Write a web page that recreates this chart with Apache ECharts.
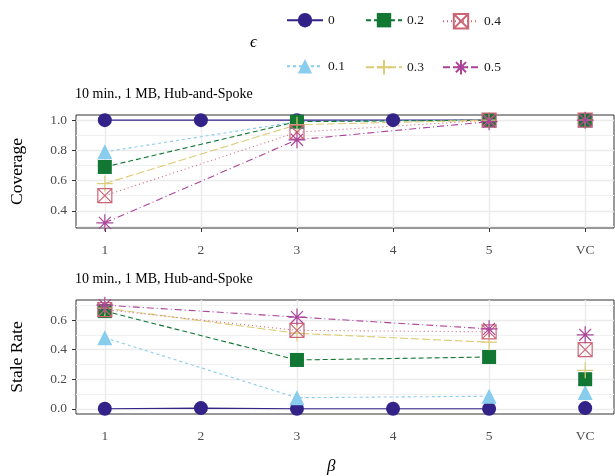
<!DOCTYPE html>
<html>
<head>
<meta charset="utf-8">
<script src="https://cdn.jsdelivr.net/npm/echarts@6/dist/echarts.min.js"></script>
<style>
html, body { margin: 0; padding: 0; background: #fff; }
#chart { width: 615px; height: 476px; }
</style>
</head>
<body>
<div id="chart"></div>
<script>
var categories = ['1', '2', '3', '4', '5', 'VC'];
var epsNames = ['0', '0.1', '0.2', '0.3', '0.4', '0.5'];

// coverage per beta (null = not run)
var cov0  = [1.0, 1.0, 1.0, 1.0, 1.0, 1.0];
var cov01 = [0.79, null, 0.99, null, 1.0, 1.0];
var cov02 = [0.69, null, 0.99, null, 1.0, 1.0];
var cov03 = [0.58, null, 0.97, null, 1.0, 1.0];
var cov04 = [0.50, null, 0.92, null, 1.0, 1.0];
var cov05 = [0.32, null, 0.87, null, 0.99, 1.0];

// stale rate per beta
var stale0  = [0.0, 0.005, 0.0, 0.0, 0.0, 0.005];
var stale01 = [0.48, null, 0.075, null, 0.085, 0.11];
var stale02 = [0.66, null, 0.33, null, 0.35, 0.20];
var stale03 = [0.68, null, 0.51, null, 0.45, 0.26];
var stale04 = [0.67, null, 0.53, null, 0.52, 0.40];
var stale05 = [0.70, null, 0.62, null, 0.54, 0.50];

var covTicks = [0.4, 0.6, 0.8, 1.0];
var covMinor = [0.3, 0.5, 0.7, 0.9];
var staleTicks = [0.0, 0.2, 0.4, 0.6];
var staleMinor = [0.1, 0.3, 0.5, 0.7];

var FONT = 'Liberation Serif';
var colors = ['#332288', '#88CCEE', '#117733', '#DDCC77', '#CC6677', '#AA4499'];
var symbols = [
    'circle',
    'triangle',
    'rect',
    'path://M5,0L5,10M0,5L10,5',
    'path://M0,0L10,0L10,10L0,10Z M0,0L10,10 M10,0L0,10',
    'path://M5,0L5,10M0,5L10,5M1.5,1.5L8.5,8.5M8.5,1.5L1.5,8.5'
];
var sizes = [14, 15, 14, 16, 14, 17];
var dashes = ['solid', [3, 3], [5, 3], [8, 3], [1, 3], [7, 3, 1, 3]];
var filled = [true, true, true, false, false, false];

var covData = [cov0, cov01, cov02, cov03, cov04, cov05];
var staleData = [stale0, stale01, stale02, stale03, stale04, stale05];

function makeSeries(k, vals, gi) {
    var pts = [];
    for (var i = 0; i < 5; i++) {
        if (vals[i] != null) pts.push([i + 1, vals[i]]);
    }
    // VC is not joined to the rest
    pts.push([5.5, '-']);
    pts.push([6, vals[5]]);
    var item = filled[k]
        ? { color: colors[k] }
        : { color: 'rgba(0,0,0,0)', borderColor: colors[k], borderWidth: 1.2 };
    return {
        name: epsNames[k],
        type: 'line',
        xAxisIndex: gi,
        yAxisIndex: gi * 2,
        data: pts,
        symbol: symbols[k],
        symbolSize: sizes[k],
        showAllSymbol: true,
        connectNulls: false,
        lineStyle: { color: colors[k], width: 1.1, type: dashes[k] },
        itemStyle: item,
        emphasis: { disabled: true },
        animation: false
    };
}

var series = [];
for (var k = 0; k < 6; k++) series.push(makeSeries(k, covData[k], 0));
for (var k = 0; k < 6; k++) series.push(makeSeries(k, staleData[k], 1));

var tickLabel = { fontFamily: FONT, fontSize: 13.5, color: '#4D4D4D' };

function xAxisFor(gi) {
    return {
        type: 'value', gridIndex: gi, min: 0.7, max: 6.3,
        axisLine: { show: false },
        axisTick: { show: true, length: 4, customValues: [1, 2, 3, 4, 5, 6], lineStyle: { color: '#333' } },
        axisLabel: Object.assign({ margin: 15, customValues: [1, 2, 3, 4, 5, 6],
            formatter: function (v) { return categories[Math.round(v) - 1]; } }, tickLabel),
        splitLine: { show: true, lineStyle: { color: '#EBEBEB', width: 1.4 } }
    };
}

function yAxesFor(gi, min, max, ticks, minor, name) {
    return [{
        type: 'value', gridIndex: gi, min: min, max: max,
        name: name, nameLocation: 'middle', nameGap: 50,
        nameTextStyle: { fontFamily: FONT, fontSize: 17.5, color: '#000' },
        axisLine: { show: false },
        axisTick: { show: true, length: 4, customValues: ticks, lineStyle: { color: '#333' } },
        axisLabel: Object.assign({ margin: 9, customValues: ticks,
            formatter: function (v) { return v.toFixed(1); } }, tickLabel),
        splitLine: { show: true, lineStyle: { color: '#EBEBEB', width: 1.4 } }
    }, {
        type: 'value', gridIndex: gi, min: min, max: max, position: 'left',
        axisLine: { show: false },
        axisTick: { show: false, customValues: minor },
        axisLabel: { show: false, customValues: minor },
        splitLine: { show: true, lineStyle: { color: '#F0F0F0', width: 1 } }
    }];
}

var legends = [];
var legX = [281, 360, 437];
for (var k = 0; k < 6; k++) {
    var col = Math.floor(k / 2), row = k % 2;
    legends.push({
        data: [epsNames[k]],
        left: legX[col], top: row == 0 ? 8 : 54,
        itemWidth: 36, itemHeight: 18,
        selectedMode: false,
        textStyle: { fontFamily: FONT, fontSize: 13.5, color: '#1a1a1a' }
    });
}

var panelTitle = { fontFamily: FONT, fontSize: 14, fontWeight: 'normal', color: '#000' };

var option = {
    backgroundColor: '#fff',
    animation: false,
    title: [
        { text: '10 min., 1 MB, Hub-and-Spoke', left: 70, top: 82, textStyle: panelTitle },
        { text: '10 min., 1 MB, Hub-and-Spoke', left: 70, top: 267, textStyle: panelTitle },
        { text: 'ϵ', left: 245, top: 29, textStyle: { fontFamily: FONT, fontSize: 17, fontStyle: 'italic', fontWeight: 'normal', color: '#000' } },
        { text: 'β', left: 322, top: 453, textStyle: { fontFamily: FONT, fontSize: 17, fontStyle: 'italic', fontWeight: 'normal', color: '#000' } }
    ],
    legend: legends,
    grid: [
        { left: 76, right: 1, top: 115, height: 113, show: true, borderColor: '#333', borderWidth: 1, outerBoundsMode: 'none' },
        { left: 76, right: 1, top: 300, height: 114, show: true, borderColor: '#333', borderWidth: 1, outerBoundsMode: 'none' }
    ],
    xAxis: [xAxisFor(0), xAxisFor(1)],
    yAxis: yAxesFor(0, 0.286, 1.034, covTicks, covMinor, 'Coverage')
        .concat(yAxesFor(1, -0.035, 0.735, staleTicks, staleMinor, 'Stale Rate')),
    series: series
};

var myChart = echarts.init(document.getElementById('chart'));
myChart.setOption(option);
</script>
</body>
</html>
